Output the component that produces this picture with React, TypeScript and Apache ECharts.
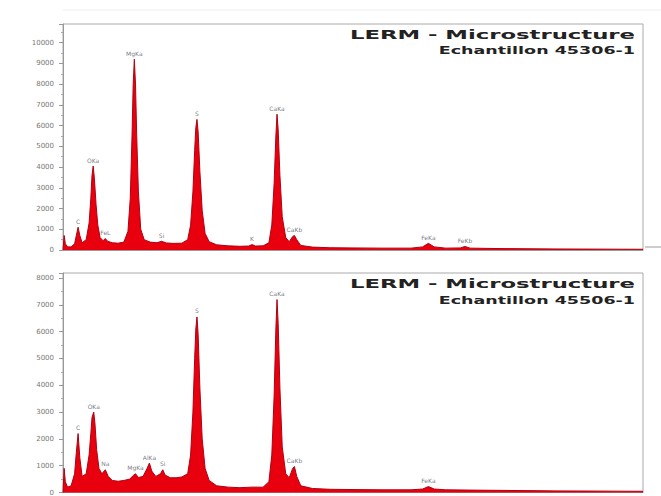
import React, { useEffect, useRef } from "react";
import * as echarts from "echarts";

// Top spectrum (energy keV, counts)
const topEnergy = [0.0, 0.02, 0.04, 0.08, 0.14, 0.2, 0.23, 0.26, 0.29, 0.33, 0.4, 0.45, 0.48, 0.5, 0.52, 0.54, 0.57, 0.6, 0.64, 0.69, 0.73, 0.77, 0.85, 0.95, 1.05, 1.12, 1.16, 1.19, 1.21, 1.23, 1.25, 1.27, 1.3, 1.34, 1.4, 1.5, 1.62, 1.7, 1.78, 1.9, 2.05, 2.15, 2.2, 2.24, 2.27, 2.29, 2.31, 2.33, 2.36, 2.4, 2.45, 2.52, 2.65, 2.85, 3.05, 3.2, 3.26, 3.32, 3.45, 3.55, 3.6, 3.64, 3.67, 3.69, 3.71, 3.74, 3.78, 3.84, 3.9, 3.96, 3.99, 4.03, 4.1, 4.3, 4.6, 5.0, 5.5, 6.0, 6.2, 6.3, 6.4, 6.6, 6.85, 6.93, 7.02, 7.5, 8.0, 8.5, 9.0, 9.5, 10.0];
const topCounts = [0, 700, 300, 150, 150, 300, 700, 1100, 700, 350, 500, 1300, 2500, 3600, 4050, 3500, 2200, 1200, 600, 450, 550, 420, 350, 330, 380, 900, 2500, 5500, 8000, 9200, 8000, 5600, 2800, 1000, 500, 380, 350, 420, 340, 320, 330, 500, 1200, 2800, 4800, 5900, 6300, 5700, 3800, 1900, 800, 400, 250, 200, 180, 190, 260, 190, 200, 350, 1200, 3200, 5500, 6550, 5800, 3600, 1600, 600, 400, 650, 700, 500, 220, 140, 110, 100, 90, 90, 150, 320, 150, 90, 100, 170, 90, 70, 60, 50, 45, 40, 35];

// Bottom spectrum
const bottomEnergy = [0.0, 0.02, 0.04, 0.08, 0.14, 0.2, 0.23, 0.26, 0.29, 0.33, 0.4, 0.45, 0.48, 0.5, 0.53, 0.55, 0.58, 0.62, 0.67, 0.73, 0.78, 0.85, 0.95, 1.05, 1.15, 1.22, 1.25, 1.3, 1.38, 1.45, 1.49, 1.53, 1.6, 1.68, 1.72, 1.76, 1.85, 1.95, 2.05, 2.15, 2.2, 2.24, 2.27, 2.29, 2.31, 2.33, 2.36, 2.4, 2.45, 2.52, 2.65, 2.85, 3.05, 3.25, 3.45, 3.55, 3.6, 3.64, 3.67, 3.69, 3.71, 3.74, 3.78, 3.84, 3.9, 3.96, 3.99, 4.03, 4.1, 4.3, 4.6, 5.0, 5.5, 6.0, 6.2, 6.3, 6.4, 6.6, 7.0, 7.5, 8.0, 8.5, 9.0, 9.5, 10.0];
const bottomCounts = [0, 900, 400, 200, 250, 700, 1500, 2200, 1300, 600, 700, 1400, 2200, 2800, 3000, 2600, 1600, 900, 700, 850, 600, 450, 420, 450, 500, 650, 700, 560, 600, 900, 1100, 800, 600, 700, 850, 650, 550, 550, 580, 700, 1400, 3000, 5000, 6100, 6550, 5900, 3900, 2000, 900, 450, 250, 200, 180, 200, 200, 400, 1400, 3600, 6100, 7200, 6300, 3900, 1700, 700, 550, 900, 970, 600, 250, 150, 120, 110, 100, 100, 130, 220, 130, 100, 90, 80, 70, 60, 55, 50, 45];

// Peak labels
const topPeakNames = ["C", "OKa", "FeL", "MgKa", "Si", "S", "K", "CaKa", "CaKb", "FeKa", "FeKb"];
const topPeakEnergy = [0.26, 0.52, 0.73, 1.23, 1.7, 2.31, 3.26, 3.69, 3.99, 6.3, 6.93];
const topPeakCounts = [1100, 4050, 550, 9200, 420, 6300, 260, 6550, 700, 320, 170];

const bottomPeakNames = ["C", "OKa", "Na", "MgKa", "AlKa", "Si", "S", "CaKa", "CaKb", "FeKa"];
const bottomPeakEnergy = [0.26, 0.53, 0.73, 1.25, 1.49, 1.72, 2.31, 3.69, 3.99, 6.3];
const bottomPeakCounts = [2200, 3000, 850, 700, 1100, 850, 6550, 7200, 970, 220];

const titleLine1 = "LERM - Microstructure";
const topSample = "Echantillon 45306-1";
const bottomSample = "Echantillon 45506-1";

const pairs = (xs: number[], ys: number[]) => xs.map((x, i) => [x, ys[i]]);

export default function App() {
  const ref = useRef<HTMLDivElement>(null);
  useEffect(() => {
    if (!ref.current) return;
    const chart = echarts.init(ref.current, undefined, { renderer: "svg" });

    const yAxisBase = (max: number) => ({
      type: "value" as const,
      min: 0,
      max,
      interval: 1000,
      axisLine: { show: true, lineStyle: { color: "#999" } },
      axisTick: { show: true, length: 4, lineStyle: { color: "#999" } },
      minorTick: { show: true, splitNumber: 2, length: 2, lineStyle: { color: "#aaa" } },
      splitLine: { show: false },
      axisLabel: {
        fontSize: 7,
        color: "#777",
        margin: 9,
        showMaxLabel: false,
        fontFamily: "DejaVu Sans",
        formatter: (v: number) => String(v),
      },
    });
    const xAxisBase = (gi: number) => ({
      type: "value" as const,
      gridIndex: gi,
      min: 0,
      max: 10,
      axisLine: { show: true, lineStyle: { color: "#999" } },
      axisTick: { show: false },
      axisLabel: { show: false },
      splitLine: { show: false },
    });

    const spectrum = (xi: number, e: number[], c: number[]) => ({
      type: "line" as const,
      xAxisIndex: xi,
      yAxisIndex: xi,
      data: pairs(e, c),
      symbol: "none",
      lineStyle: { color: "#b00010", width: 1 },
      areaStyle: { color: "#e8000e", opacity: 1 },
      z: 2,
    });
    const labels = (xi: number, names: string[], e: number[], c: number[]) => ({
      type: "scatter" as const,
      xAxisIndex: xi,
      yAxisIndex: xi,
      symbolSize: 0,
      data: names.map((n, i) => ({ name: n, value: [e[i], c[i]] })),
      label: {
        show: true,
        position: "top",
        distance: 3,
        formatter: (p: any) => p.name,
        fontSize: 6,
        color: "#556",
        fontFamily: "DejaVu Sans",
      },
      z: 3,
    });

    const titleText = (y: number, text: string, size: number, sx: number) => ({
      type: "text",
      x: 635,
      y,
      scaleX: sx,
      style: {
        text,
        fill: "#222",
        font: `bold ${size}px "DejaVu Sans"`,
        textAlign: "right",
        textVerticalAlign: "middle",
      },
      z: 10,
    });

    chart.setOption({
      animation: false,
      backgroundColor: "#fff",
      grid: [
        { left: 63, top: 24, width: 580, height: 226, show: true, borderColor: "#aaa", borderWidth: 1, backgroundColor: "transparent" },
        { left: 63, top: 273, width: 580, height: 220, show: true, borderColor: "#aaa", borderWidth: 1, backgroundColor: "transparent" },
      ],
      xAxis: [xAxisBase(0), xAxisBase(1)],
      yAxis: [
        { ...yAxisBase(10900), gridIndex: 0 },
        { ...yAxisBase(8190), gridIndex: 1 },
      ],
      series: [
        spectrum(0, topEnergy, topCounts),
        spectrum(1, bottomEnergy, bottomCounts),
        labels(0, topPeakNames, topPeakEnergy, topPeakCounts),
        labels(1, bottomPeakNames, bottomPeakEnergy, bottomPeakCounts),
      ],
      graphic: [
        titleText(34, titleLine1, 13, 1.75),
        titleText(50, topSample, 10, 1.75),
        titleText(283, titleLine1, 13, 1.75),
        titleText(300, bottomSample, 10, 1.75),
        { type: "line", shape: { x1: 645, y1: 247, x2: 661, y2: 247 }, style: { stroke: "#999", lineWidth: 1 } },
        { type: "line", shape: { x1: 63, y1: 10, x2: 661, y2: 10 }, style: { stroke: "#eee", lineWidth: 1 } },
      ],
    });
    return () => chart.dispose();
  }, []);
  return <div ref={ref} style={{ position: "fixed", left: 0, top: 0, width: 661, height: 496 }} />;
}
